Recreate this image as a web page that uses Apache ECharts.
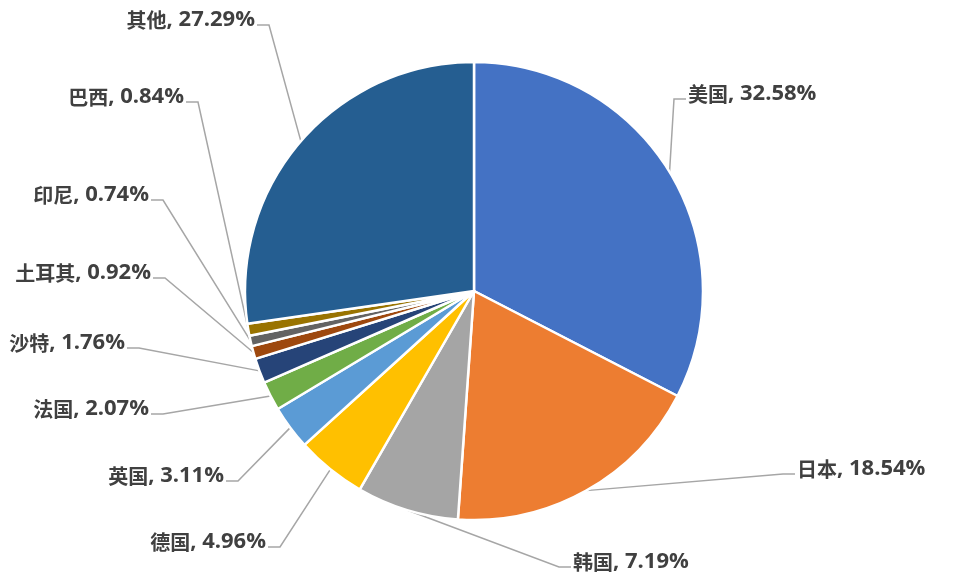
<!DOCTYPE html>
<html>
<head>
<meta charset="utf-8">
<script src="https://cdn.jsdelivr.net/npm/echarts@6/dist/echarts.min.js"></script>
<style>
    html, body { margin: 0; padding: 0; background: #fff; }
    #chart { width: 953px; height: 582px; }
</style>
</head>
<body>
<div id="chart"></div>
<script>
var countries = ['美国', '日本', '韩国', '德国', '英国', '法国', '沙特', '土耳其', '印尼', '巴西', '其他'];
var shares = [32.58, 18.54, 7.19, 4.96, 3.11, 2.07, 1.76, 0.92, 0.74, 0.84, 27.29];
var colors = ['#4472C4', '#ED7D31', '#A5A5A5', '#FFC000', '#5B9BD5', '#70AD47',
    '#264478', '#9E480E', '#636363', '#997300', '#255E91'];

// 标签放置点 (文字靠线一侧的中点), 仿照原图
var labelAnchors = [
    [686, 94, 'left'], [795, 469, 'left'], [571, 562, 'left'],
    [268, 542, 'right'], [226, 476, 'right'], [151, 409, 'right'],
    [127, 343, 'right'], [153, 273, 'right'], [151, 195, 'right'],
    [186, 97, 'right'], [257, 20, 'right']
];

var data = countries.map(function (name, i) {
    return {name: name, value: shares[i], itemStyle: {color: colors[i]}};
});

var option = {
    backgroundColor: '#fff',
    animation: false,
    series: [
        {
            type: 'pie',
            center: [474, 291],
            radius: 229,
            startAngle: 90,
            clockwise: true,
            avoidLabelOverlap: false,
            itemStyle: {
                borderColor: '#fff',
                borderWidth: 2.5
            },
            label: {
                show: true,
                formatter: function (p) {
                    return '{n|' + p.name + '}{v|, ' + p.value.toFixed(2) + '%}';
                },
                color: '#404040',
                // 底部留白让引线落在文字下半部
                padding: [0, 2, 10, 2],
                backgroundColor: 'rgba(255,255,255,0)',
                rich: {
                    n: {
                        fontFamily: '"Noto Sans CJK SC", sans-serif',
                        fontWeight: 'bold',
                        fontSize: 20,
                        color: '#404040'
                    },
                    v: {
                        fontFamily: '"Open Sans", sans-serif',
                        fontWeight: 'bold',
                        fontSize: 22,
                        color: '#404040'
                    }
                }
            },
            labelLine: {
                show: true,
                length: 10,
                length2: 12,
                lineStyle: {color: '#A6A6A6', width: 1.5}
            },
            labelLayout: function (params) {
                var a = labelAnchors[params.dataIndex];
                return {
                    x: a[0],
                    y: a[1] + 5,
                    align: a[2],
                    verticalAlign: 'middle'
                };
            },
            data: data
        }
    ]
};

var chart = echarts.init(document.getElementById('chart'));
chart.setOption(option);
</script>
</body>
</html>
